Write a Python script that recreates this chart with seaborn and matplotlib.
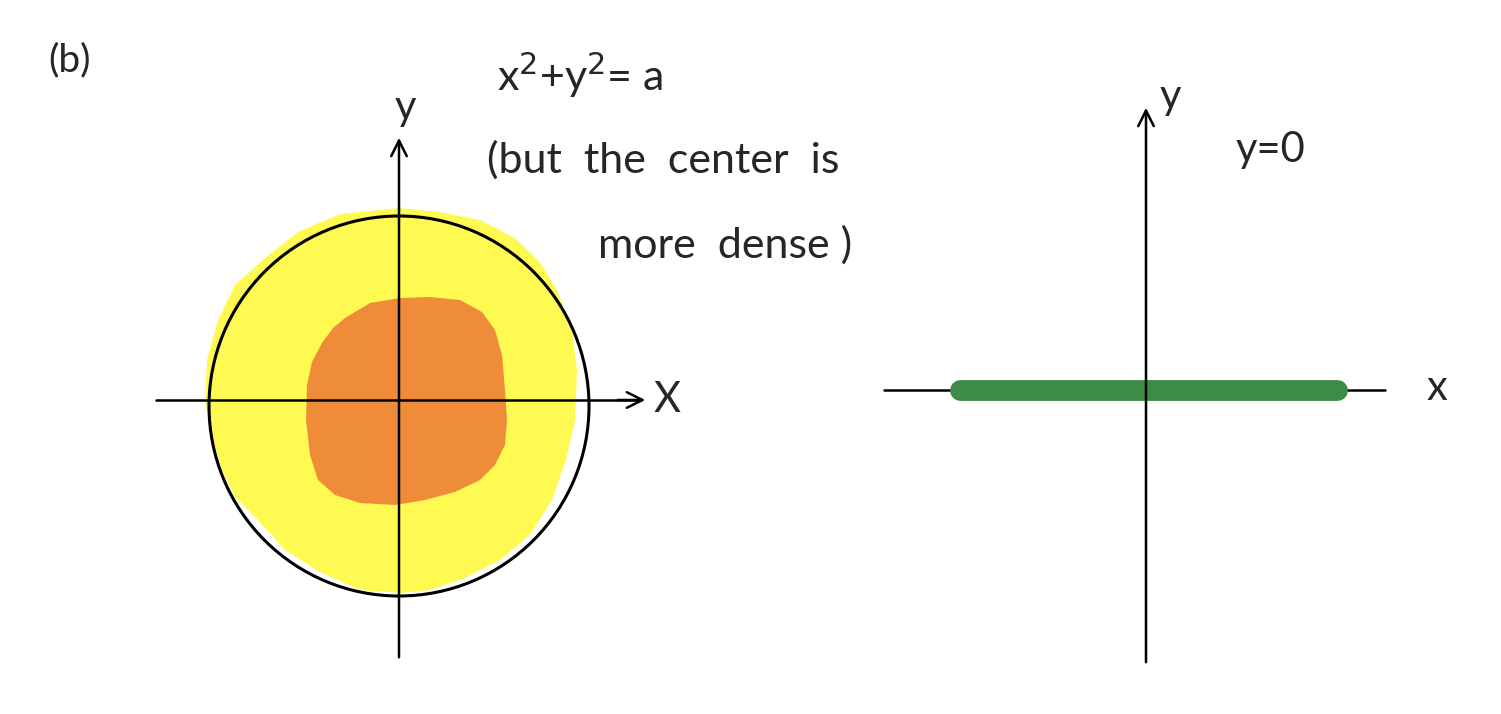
import numpy as np
import matplotlib
matplotlib.use("Agg")
from matplotlib import pyplot as plt
import matplotlib.patches as mpatches
import seaborn as sns

sns.set_style("white")
plt.rcParams['font.family'] = ['Lato', 'DejaVu Sans']

# panel labels and notes
panel_label = "(b)"
left_eq = "x$^2$+y$^2$= a"
left_note = ["(but  the  center  is", "more  dense )"]
right_eq = "y=0"
axis_names = ["x", "y"]

# left sketch (pixel units of the page)
left_origin = (399, 400)
circle_center = (399, 406)
circle_radius = 190
yellow_x = [399, 440, 480, 515, 540, 558, 572, 577, 575, 566, 552, 530, 500, 465, 430,
            400, 360, 320, 285, 258, 235, 222, 212, 205, 207, 218, 235, 265, 298, 340]
yellow_y = [208, 212, 220, 238, 262, 292, 330, 370, 420, 460, 500, 535, 560, 578, 590,
            593, 590, 572, 550, 520, 497, 470, 435, 400, 360, 320, 285, 258, 232, 214]
orange_x = [345, 370, 400, 430, 460, 482, 495, 502, 505, 507, 505, 495, 480, 455, 425,
            395, 360, 335, 318, 310, 306, 307, 312, 322, 333]
orange_y = [318, 303, 298, 297, 300, 312, 330, 355, 390, 420, 445, 465, 480, 492, 500,
            505, 503, 495, 480, 455, 420, 385, 362, 343, 328]

# right sketch
right_origin = (1146, 390)
line_x = [960, 1337]
line_y = [390, 390]

fig = plt.figure(figsize=(15.01, 7.14), dpi=100)
ax = fig.add_axes([0, 0, 1, 1])
ax.set_xlim(0, 1501)
ax.set_ylim(714, 0)
ax.axis("off")

ink = "black"
arrow = dict(arrowstyle="->", color=ink, lw=1.8, mutation_scale=28)

# left: filled density blobs and circle
ax.fill(yellow_x, yellow_y, color="#fefa52", lw=0, zorder=1)
ax.fill(orange_x, orange_y, color="#ef8c3a", lw=0, zorder=2)
ax.add_patch(mpatches.Circle(circle_center, circle_radius, fill=False,
                             ec=ink, lw=2.2, zorder=4))
ox, oy = left_origin
ax.plot([156, 640], [oy, oy], color=ink, lw=1.8, zorder=5)
ax.annotate("", xy=(648, oy), xytext=(615, oy), arrowprops=arrow, zorder=5)
ax.annotate("", xy=(ox, 135), xytext=(ox, 660), arrowprops=arrow, zorder=5)
ax.text(667, oy, axis_names[0].upper(), fontsize=30, ha="center", va="center")
ax.text(ox + 6, 108, axis_names[1], fontsize=30, ha="center", va="center")

# right: x-axis segment
rx, ry = right_origin
sns.lineplot(x=line_x, y=line_y, ax=ax, color="#3d8b47", lw=15,
             solid_capstyle="round", zorder=3)
ax.plot([884, 1385], [ry, ry], color=ink, lw=1.8, zorder=2)
ax.annotate("", xy=(rx, 105), xytext=(rx, 665), arrowprops=arrow, zorder=4)
ax.text(1437, 388, axis_names[0], fontsize=30, ha="center", va="center")
ax.text(1170, 97, axis_names[1], fontsize=30, ha="center", va="center")
ax.text(1270, 150, right_eq, fontsize=30, ha="center", va="center")

# notes
ax.text(70, 60, panel_label, fontsize=28, ha="center", va="center")
ax.text(580, 75, left_eq, fontsize=31, ha="center", va="center")
ax.text(487, 160, left_note[0], fontsize=31, ha="left", va="center")
ax.text(598, 245, left_note[1], fontsize=31, ha="left", va="center")

fig.savefig("out.png", dpi=100, facecolor="white")
